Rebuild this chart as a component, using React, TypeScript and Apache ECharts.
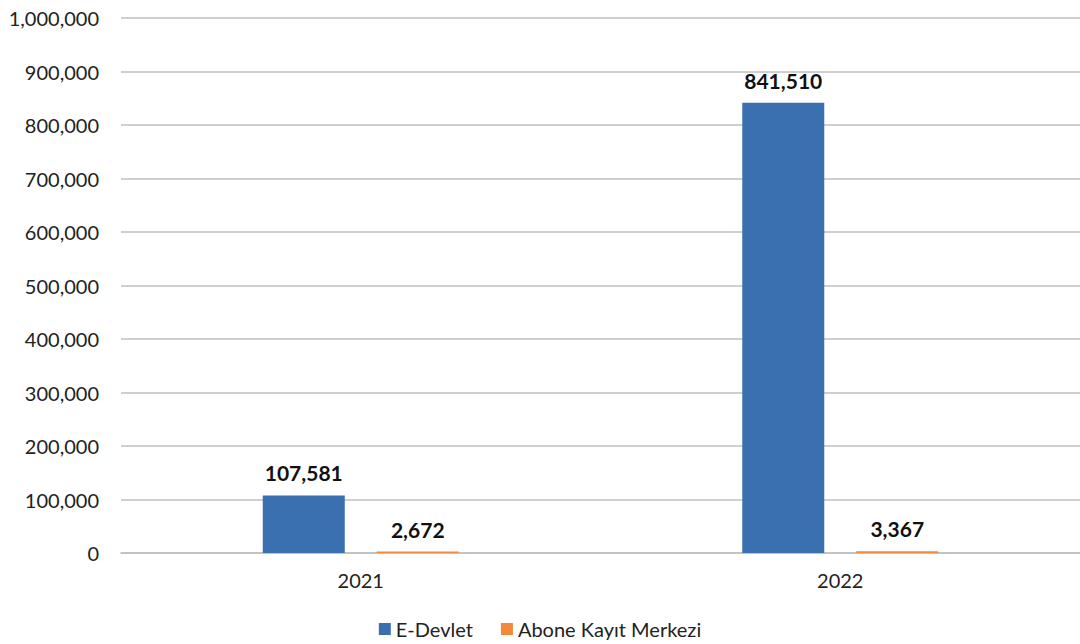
import React, { useEffect, useRef } from "react";
import * as echarts from "echarts";

const categories = ["2021", "2022"];
const eDevlet = [107581, 841510];
const aboneKayit = [2672, 3367];
const seriesNames = ["E-Devlet", "Abone Kayıt Merkezi"];

const FONT = "Lato, 'Open Sans', sans-serif";

export default function App() {
  const ref = useRef<HTMLDivElement>(null);
  useEffect(() => {
    if (!ref.current) return;
    const chart = echarts.init(ref.current, null, { renderer: "svg" });
    const fmt = (v: number) => v.toLocaleString("en-US");
    const labelCfg = {
      show: true,
      position: "top",
      distance: 12,
      fontSize: 21,
      fontWeight: "bold",
      color: "#111",
      fontFamily: FONT,
      formatter: (p: any) => fmt(p.value),
    };
    chart.setOption({
      animation: false,
      backgroundColor: "#ffffff",
      textStyle: { fontFamily: FONT },
      grid: { left: 121, right: 0, top: 18, bottom: 91, containLabel: false },
      legend: {
        bottom: 0,
        left: "center",
        itemWidth: 12,
        itemHeight: 12,
        itemGap: 28,
        icon: "rect",
        textStyle: { fontSize: 20, color: "#222", fontFamily: FONT },
        data: seriesNames,
      },
      xAxis: {
        type: "category",
        data: categories,
        axisTick: { show: false },
        axisLine: { lineStyle: { color: "#bfbfbf", width: 1.5 } },
        axisLabel: { fontSize: 20, color: "#222", margin: 17, fontFamily: FONT },
      },
      yAxis: {
        type: "value",
        min: 0,
        max: 1000000,
        interval: 100000,
        axisLine: { show: false },
        axisTick: { show: false },
        splitLine: { lineStyle: { color: "#bfbfbf", width: 1.5 } },
        axisLabel: {
          fontSize: 20,
          color: "#222",
          margin: 22,
          fontFamily: FONT,
          formatter: (v: number) => fmt(v),
        },
      },
      series: [
        {
          name: seriesNames[0],
          type: "bar",
          data: eDevlet,
          barWidth: 82,
          barGap: "39%",
          itemStyle: { color: "#3a6fb0" },
          label: labelCfg,
        },
        {
          name: seriesNames[1],
          type: "bar",
          data: aboneKayit,
          barWidth: 82,
          itemStyle: { color: "#f28a3c" },
          label: labelCfg,
        },
      ],
    });
    return () => chart.dispose();
  }, []);
  return (
    <div
      ref={ref}
      style={{ position: "fixed", left: 0, top: 0, width: 1080, height: 644 }}
    />
  );
}
